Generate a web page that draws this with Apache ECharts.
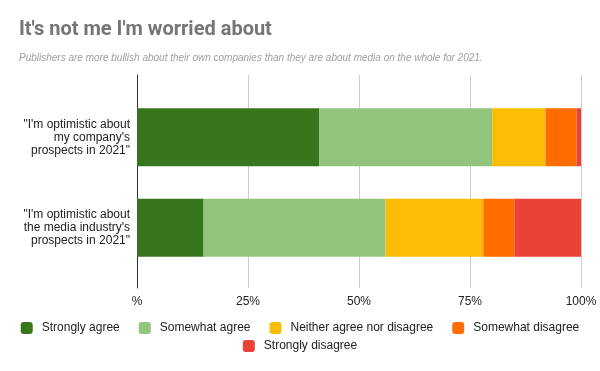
<!DOCTYPE html>
<html><head><meta charset="utf-8">
<script src="https://cdn.jsdelivr.net/npm/echarts@6/dist/echarts.min.js"></script>
<style>html,body{margin:0;padding:0;background:#fff}#c{width:600px;height:371px}</style>
</head><body><div id="c"></div>
<script>
var categories = ['"I\'m optimistic about\nmy company\'s\nprospects in 2021"', '"I\'m optimistic about\nthe media industry\'s\nprospects in 2021"'];
var seriesNames = ['Strongly agree', 'Somewhat agree', 'Neither agree nor disagree', 'Somewhat disagree', 'Strongly disagree'];
var stronglyAgree = [41, 15];
var somewhatAgree = [39, 41];
var neither = [12, 22];
var somewhatDisagree = [7, 7];
var stronglyDisagree = [1, 15];
var xTicks = [0, 25, 50, 75, 100];
var colors = ['#38761d', '#93c47d', '#fbbc04', '#ff6d01', '#ea4335'];

var values = [stronglyAgree, somewhatAgree, neither, somewhatDisagree, stronglyDisagree];
var chart = echarts.init(document.getElementById('c'));
var labelFont = 'Arial, "Liberation Sans", sans-serif';
chart.setOption({
  animation: false,
  title: [
    {text: "It's not me I'm worried about", left: 19, top: 20, padding: 0,
     textStyle: {fontFamily: 'Roboto', fontWeight: 'bold', fontSize: 20, color: '#757575'}},
    {text: 'Publishers are more bullish about their own companies than they are about media on the whole for 2021.',
     left: 19, top: 53, padding: 0,
     textStyle: {fontFamily: labelFont, fontStyle: 'italic', fontWeight: 'normal', fontSize: 10, color: '#9e9e9e'}}
  ],
  legend: [
    {data: seriesNames.slice(0, 4), left: 'center', top: 322, padding: 0, itemWidth: 12, itemHeight: 12, itemGap: 19,
     icon: 'roundRect', textStyle: {fontFamily: labelFont, fontSize: 12, color: '#222', padding: [0, 0, 0, 4]}},
    {data: seriesNames.slice(4), left: 'center', top: 340, padding: 0, itemWidth: 12, itemHeight: 12,
     icon: 'roundRect', textStyle: {fontFamily: labelFont, fontSize: 12, color: '#222', padding: [0, 0, 0, 4]}}
  ],
  grid: [
    {left: 137, right: 19, top: 92, bottom: 98, containLabel: false},
    {left: 137, right: 19, top: 75, bottom: 83, containLabel: false}
  ],
  xAxis: [
    {gridIndex: 0, type: 'value', min: 0, max: 100, show: false},
    {gridIndex: 1, type: 'value', min: xTicks[0], max: xTicks[xTicks.length - 1], interval: 25,
     axisLine: {show: false}, axisTick: {show: false},
     splitLine: {show: true, lineStyle: {color: '#cccccc', width: 1}},
     axisLabel: {margin: 8, fontFamily: labelFont, fontSize: 12, color: '#222',
       formatter: function (v) { return v === 0 ? '%' : v + '%'; }}}
  ],
  yAxis: [
    {gridIndex: 0, type: 'category', data: categories, inverse: true,
     axisLine: {show: false}, axisTick: {show: false},
     axisLabel: {margin: 7, fontFamily: labelFont, fontSize: 12, lineHeight: 13, color: '#222', align: 'right'}},
    {gridIndex: 1, type: 'value', min: 0, max: 1,
     axisLine: {show: true, lineStyle: {color: '#333', width: 1}},
     axisTick: {show: false}, axisLabel: {show: false}, splitLine: {show: false}}
  ],
  series: seriesNames.map(function (n, i) {
    return {name: n, type: 'bar', stack: 'all', xAxisIndex: 0, yAxisIndex: 0,
      barWidth: 58, data: values[i], itemStyle: {color: colors[i]}, z: 3};
  })
});
</script></body></html>
